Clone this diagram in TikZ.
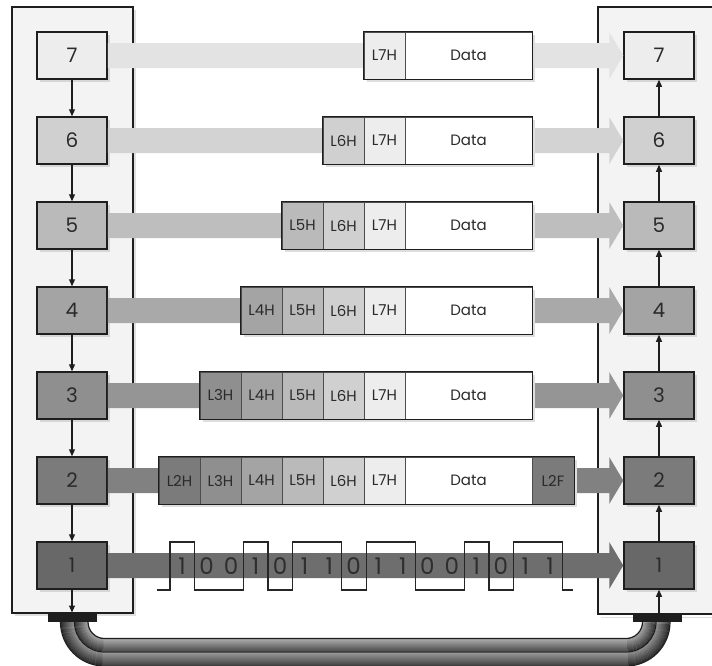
\documentclass[tikz,border=0pt]{standalone}
\usepackage{fontspec}
\setmainfont{Poppins}
\usetikzlibrary{arrows.meta,calc,shadows}
\definecolor{c7}{HTML}{EDEDED}
\definecolor{c6}{HTML}{D0D0D0}
\definecolor{c5}{HTML}{BABABA}
\definecolor{c4}{HTML}{A4A4A4}
\definecolor{c3}{HTML}{8F8F8F}
\definecolor{c2}{HTML}{7B7B7B}
\definecolor{c1}{HTML}{686868}
\definecolor{b7}{HTML}{E3E3E3}
\definecolor{b6}{HTML}{D3D3D3}
\definecolor{b5}{HTML}{BEBEBE}
\definecolor{b4}{HTML}{A9A9A9}
\definecolor{b3}{HTML}{959595}
\definecolor{b2}{HTML}{818181}
\definecolor{b1}{HTML}{6E6E6E}
\definecolor{panel}{HTML}{F3F3F3}
\definecolor{ink}{HTML}{1E1E1E}
\definecolor{txt}{HTML}{2A2A2A}
\begin{document}
\begin{tikzpicture}[x=1pt,y=-1pt,
  layerbox/.style={draw=ink,line width=1.5pt,minimum width=70pt,minimum height=47pt,inner sep=0pt,
    font=\fontsize{20}{22}\selectfont,text=txt,
    drop shadow={shadow xshift=2.5pt,shadow yshift=-2.5pt,fill=black!16,opacity=1}},
  cell/.style={draw=black!70,line width=0.8pt,minimum height=47pt,inner sep=0pt,
    font=\fontsize{15}{17}\selectfont,text=txt},
  framebox/.style={draw=ink,line width=1.5pt},
  pshadow/.style={fill=black!13},
  varrow/.style={draw=ink,line width=1.1pt,-{Triangle[length=7pt,width=6pt]}},
  bit/.style={font=\fontsize{23}{25}\selectfont,text=black!82,inner sep=0pt},
  wire/.style={draw=black!85,line width=1.3pt},
  rim/.style={draw=ink,line width=1.2pt},
]
\useasboundingbox (0,0) rectangle (712,665);
\fill[white] (0,0) rectangle (712,665);

% panels
\fill[black!12] (15,10) rectangle (136,616);
\fill[panel] (12,7) rectangle (133,613);
\draw[line width=1.5pt,ink] (12,7) rectangle (133,613);
\fill[black!12] (601,617) rectangle (712,618);
\fill[panel] (598,7) rectangle (712,614);
\draw[line width=1.5pt,ink] (712,7) -- (598,7) -- (598,614) -- (712,614);

% layer boxes
\foreach \n in {1,...,7} {
  \pgfmathsetmacro\cy{55.5+85*(7-\n)}
  \node[layerbox,fill=c\n] (L\n) at (72,\cy) {\n};
  \node[layerbox,fill=c\n] (R\n) at (659,\cy) {\n};
}

% bands with arrowheads
\foreach \n in {1,...,7} {
  \fill[b\n] ($(L\n.east)+(0,-12.5)$) -- ($(R\n.west)+(-14,-12.5)$) -- ($(R\n.west)+(-14,-23.5)$)
    -- (R\n.west) -- ($(R\n.west)+(-14,23.5)$) -- ($(R\n.west)+(-14,12.5)$)
    -- ($(L\n.east)+(0,12.5)$) -- cycle;
}

% packets
\foreach \n in {2,...,7} {
  \pgfmathsetmacro\cy{55.5+85*(7-\n)}
  \ifnum\n=2
    \fill[pshadow] ({159+2.5},{\cy-23.5+2.5}) rectangle ({574+2.5},{\cy+23.5+2.5});
  \else
    \pgfmathsetmacro\lx{159+(\n-2)*41}
    \fill[pshadow] ({\lx+2.5},{\cy-23.5+2.5}) rectangle ({532+2.5},{\cy+23.5+2.5});
  \fi
  \foreach \k in {\n,...,7} {
    \node[cell,fill=c\k,minimum width=41pt] (P\n x\k) at ({159+(\k-2)*41+20.5},\cy) {L\k H};
  }
  \node[cell,fill=white,minimum width=127pt] (D\n) at (468.5,\cy) {Data};
}
\node[cell,fill=c2,minimum width=42pt] (F2) at (553,480.5) {L2F};
\foreach \n in {3,...,7} {
  \draw[framebox] (P\n x\n.north west) rectangle (D\n.south east);
}
\draw[framebox] (P2x2.north west) rectangle (F2.south east);

% physical layer bits
\foreach \b [count=\i from 0] in {1,0,0,1,0,1,1,0,1,1,0,0,1,0,1,1} {
  \node[bit] (bit\i) at ({182+24.53*\i},566) {\b};
}
\draw[wire] (157,590) -- (170,590) -- (170,542) -- (194.5,542) -- (194.5,590)
  -- (243.6,590) -- (243.6,542) -- (268.1,542) -- (268.1,590) -- (292.7,590)
  -- (292.7,542) -- (341.7,542) -- (341.7,590) -- (366.2,590) -- (366.2,542)
  -- (415.3,542) -- (415.3,590) -- (464.4,590) -- (464.4,542) -- (488.9,542)
  -- (488.9,590) -- (513.4,590) -- (513.4,542) -- (562.5,542) -- (562.5,590) -- (573,590);

% vertical arrows
\coordinate (lb) at (72,612.5);
\coordinate (rb) at (659,613.5);
\foreach \n/\m in {7/6,6/5,5/4,4/3,3/2,2/1} {
  \draw[varrow] (L\n) -- (L\m);
  \draw[varrow] (R\m) -- (R\n);
}
\draw[varrow] (L1) -- (lb);
\draw[varrow] (rb) -- (R1);

% cable
\foreach \i in {0,...,12} {
  \pgfmathsetmacro\r{17+\i}
  \pgfmathsetmacro\p{35+3.5*\i}
  \draw[line width=1.3pt,black!\p,rounded corners=\r pt]
    ({104.5-\r},618) -- ({104.5-\r},{622+\r}) -- ({626+\r},{622+\r}) -- ({626+\r},618);
}
\foreach \i in {0,...,12} {
  \pgfmathsetmacro\r{31+\i}
  \pgfmathsetmacro\p{45+3*\i}
  \draw[line width=1.3pt,black!\p,rounded corners=\r pt]
    ({104.5-\r},618) -- ({104.5-\r},{622+\r}) -- ({626+\r},{622+\r}) -- ({626+\r},618);
}
\foreach \r in {16.5,30,44} {
  \draw[rim,rounded corners=\r pt]
    ({104.5-\r},618) -- ({104.5-\r},{622+\r}) -- ({626+\r},{622+\r}) -- ({626+\r},618);
}
\fill[ink] (48,614) rectangle (97,622);
\fill[ink] (633,614) rectangle (682,622);
\end{tikzpicture}
\end{document}
